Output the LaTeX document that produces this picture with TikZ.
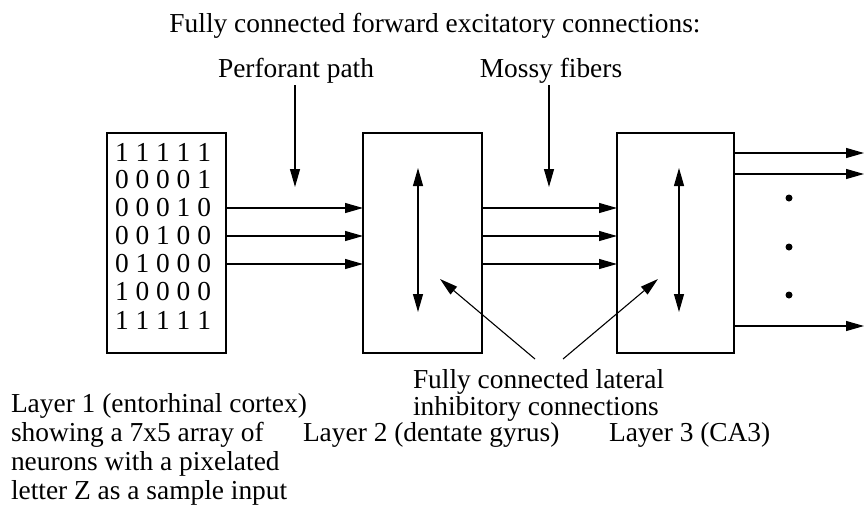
\documentclass[tikz,border=0pt]{standalone}
\usepackage{fontspec}
\setmainfont{Liberation Serif}
\usetikzlibrary{arrows.meta}
\begin{document}
\begin{tikzpicture}[x=1pt,y=-1pt,
  every node/.style={font=\fontsize{27.4}{29}\selectfont, inner sep=0pt, outer sep=0pt},
  lbl/.style={anchor=base west},
  ctr/.style={anchor=base},
  layerbox/.style={draw, line width=1.1pt, minimum height=220pt, anchor=north west},
  digitrow/.style={anchor=center},
  tip/.style={line width=1.1pt, -{Triangle[length=18pt,width=10pt]}},
  both/.style={line width=1.1pt, {Triangle[length=18pt,width=10pt]}-{Triangle[length=18pt,width=10pt]}},
  dot/.style={circle, fill, minimum size=7pt}]
\useasboundingbox (0,0) rectangle (864,509);

% title and pathway labels
\node[ctr] (title) at (435,32) {Fully connected forward excitatory connections:};
\node[ctr] (pp) at (296,77) {Perforant path};
\node[ctr] (mf) at (551,77) {Mossy fibers};

% the three layers
\node[layerbox, minimum width=119pt] (L1) at (107,133) {};
\node[layerbox, minimum width=119pt] (L2) at (363,133) {};
\node[layerbox, minimum width=117pt] (L3) at (617,133) {};

% 7x5 input pattern (letter Z)
\node[digitrow] (r1) at (163,152) {1 1 1 1 1};
\node[digitrow] (r2) at (163,180) {0 0 0 0 1};
\node[digitrow] (r3) at (163,208) {0 0 0 1 0};
\node[digitrow] (r4) at (163,236) {0 0 1 0 0};
\node[digitrow] (r5) at (163,264) {0 1 0 0 0};
\node[digitrow] (r6) at (163,292) {1 0 0 0 0};
\node[digitrow] (r7) at (163,320) {1 1 1 1 1};

% pathway arrows from the labels
\coordinate (ppend) at (295,187);
\coordinate (mfend) at (549,187);
\draw[tip] (ppend |- 0,85) -- (ppend);
\draw[tip] (mfend |- 0,85) -- (mfend);

% forward excitatory connections
\foreach \r in {r3,r4,r5} {
  \draw[tip] (\r -| L1.east) -- (\r -| L2.west);
  \draw[tip] (\r -| L2.east) -- (\r -| L3.west);
}

% outputs of layer 3
\coordinate (o1) at (864,153);
\coordinate (o2) at (864,174);
\coordinate (o3) at (864,326);
\draw[tip] (o1 -| L3.east) -- (o1);
\draw[tip] (o2 -| L3.east) -- (o2);
\draw[tip] (o3 -| L3.east) -- (o3);
\node[dot] (d1) at (789,198) {};
\node[dot] (d2) at (789,247) {};
\node[dot] (d3) at (789,295) {};

% lateral inhibition inside layers 2 and 3
\coordinate (i2t) at (418,168);
\coordinate (i2b) at (418,312);
\coordinate (i3t) at (679,168);
\coordinate (i3b) at (679,312);
\draw[both] (i2t) -- (i2b);
\draw[both] (i3t) -- (i3b);

% lateral label and its pointers
\node[lbl] (lat1) at (413,388) {Fully connected lateral};
\node[lbl] (lat2) at (413,415) {inhibitory connections};
\coordinate (p2) at (440,279);
\coordinate (p3) at (658,279);
\coordinate (s2) at (535,359);
\coordinate (s3) at (563,359);
\draw[tip] (s2) -- (p2);
\draw[tip] (s3) -- (p3);

% layer captions
\node[lbl] (c1a) at (11,412) {Layer 1 (entorhinal cortex)};
\node[lbl] (c1b) at (11,441) {showing a 7x5 array of};
\node[lbl] (c1c) at (11,470) {neurons with a pixelated};
\node[lbl] (c1d) at (11,499) {letter Z as a sample input};
\node[lbl] (c2) at (303,441) {Layer 2 (dentate gyrus)};
\node[lbl] (c3) at (609,441) {Layer 3 (CA3)};
\end{tikzpicture}
\end{document}
